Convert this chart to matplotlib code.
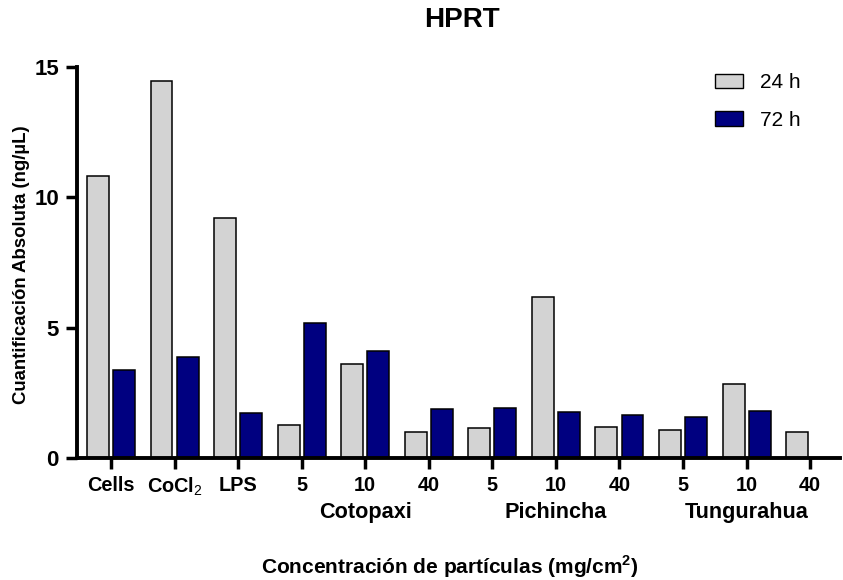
import matplotlib
matplotlib.use("Agg")
import matplotlib.pyplot as plt
import numpy as np
from matplotlib.patches import Patch

plt.rcParams.update({
    "font.family": ["Liberation Sans", "DejaVu Sans"],
    "mathtext.fontset": "custom",
    "mathtext.rm": "Liberation Sans",
    "mathtext.bf": "Liberation Sans:bold",
})

# ------------------------------
# Data (ng/uL)
# ------------------------------
tick_labels = ["Cells", "CoCl$_2$", "LPS",
               "5", "10", "40",
               "5", "10", "40",
               "5", "10", "40"]
group_names = ["Cotopaxi", "Pichincha", "Tungurahua"]
group_centers = [4, 7, 10]

h24 = [10.8, 14.47, 9.2, 1.28, 3.62, 1.0, 1.16, 6.17, 1.18, 1.08, 2.84, 1.0]
h72 = [3.38, 3.88, 1.72, 5.17, 4.1, 1.88, 1.93, 1.78, 1.66, 1.57, 1.82, np.nan]

GREY = "#d3d3d3"
NAVY = "#000080"

fig = plt.figure(figsize=(8.43, 5.80), dpi=100)
ax = fig.add_axes([77 / 843, 1 - 458 / 580, (840 - 77) / 843, (458 - 67) / 580])

x = np.arange(len(tick_labels))
off = 0.205
w = 0.345
ax.bar(x - off, h24, width=w, color=GREY, edgecolor="black", linewidth=1.1)
ax.bar(x + off, h72, width=w, color=NAVY, edgecolor="black", linewidth=1.1)

ax.set_xlim(-0.535, 11.47)
ax.set_ylim(0, 15)
ax.set_yticks([0, 5, 10, 15])

for side in ["top", "right"]:
    ax.spines[side].set_visible(False)
for side in ["left", "bottom"]:
    ax.spines[side].set_linewidth(2.8)

ax.set_xticks(x)
ax.set_xticklabels(tick_labels, fontsize=14.3, fontweight="bold")
ax.tick_params(axis="both", width=2.5, length=8, pad=5)
for lab in ax.get_yticklabels():
    lab.set_fontsize(16)
    lab.set_fontweight("bold")

# Region names under the concentration ticks
for name, c in zip(group_names, group_centers):
    ax.text(c, -2.1, name, ha="center", va="center", fontsize=15.6,
            fontweight="bold", transform=ax.transData, clip_on=False)

fig.text(450 / 843, 1 - 567 / 580,
         r"Concentración de partículas (mg/cm$^{\mathbf{2}}$)",
         ha="center", va="center", fontsize=15, fontweight="bold")
fig.text(22 / 843, 1 - 265 / 580, "Cuantificación Absoluta (ng/µL)",
         ha="center", va="center", rotation=90, fontsize=13.4, fontweight="bold")
fig.text(462 / 843, 1 - 20 / 580, "HPRT", ha="center", va="center",
         fontsize=20, fontweight="bold")

handles = [Patch(facecolor=GREY, edgecolor="black", linewidth=1.0, label="24 h"),
           Patch(facecolor=NAVY, edgecolor="black", linewidth=1.0, label="72 h")]
fig.legend(handles=handles, loc="upper left", bbox_to_anchor=(715 / 843, 1 - 73 / 580),
           frameon=False, fontsize=15, handlelength=1.35, handleheight=0.67,
           handletextpad=0.8, labelspacing=0.9, borderpad=0, borderaxespad=0)

fig.savefig("out.png", dpi=100)
